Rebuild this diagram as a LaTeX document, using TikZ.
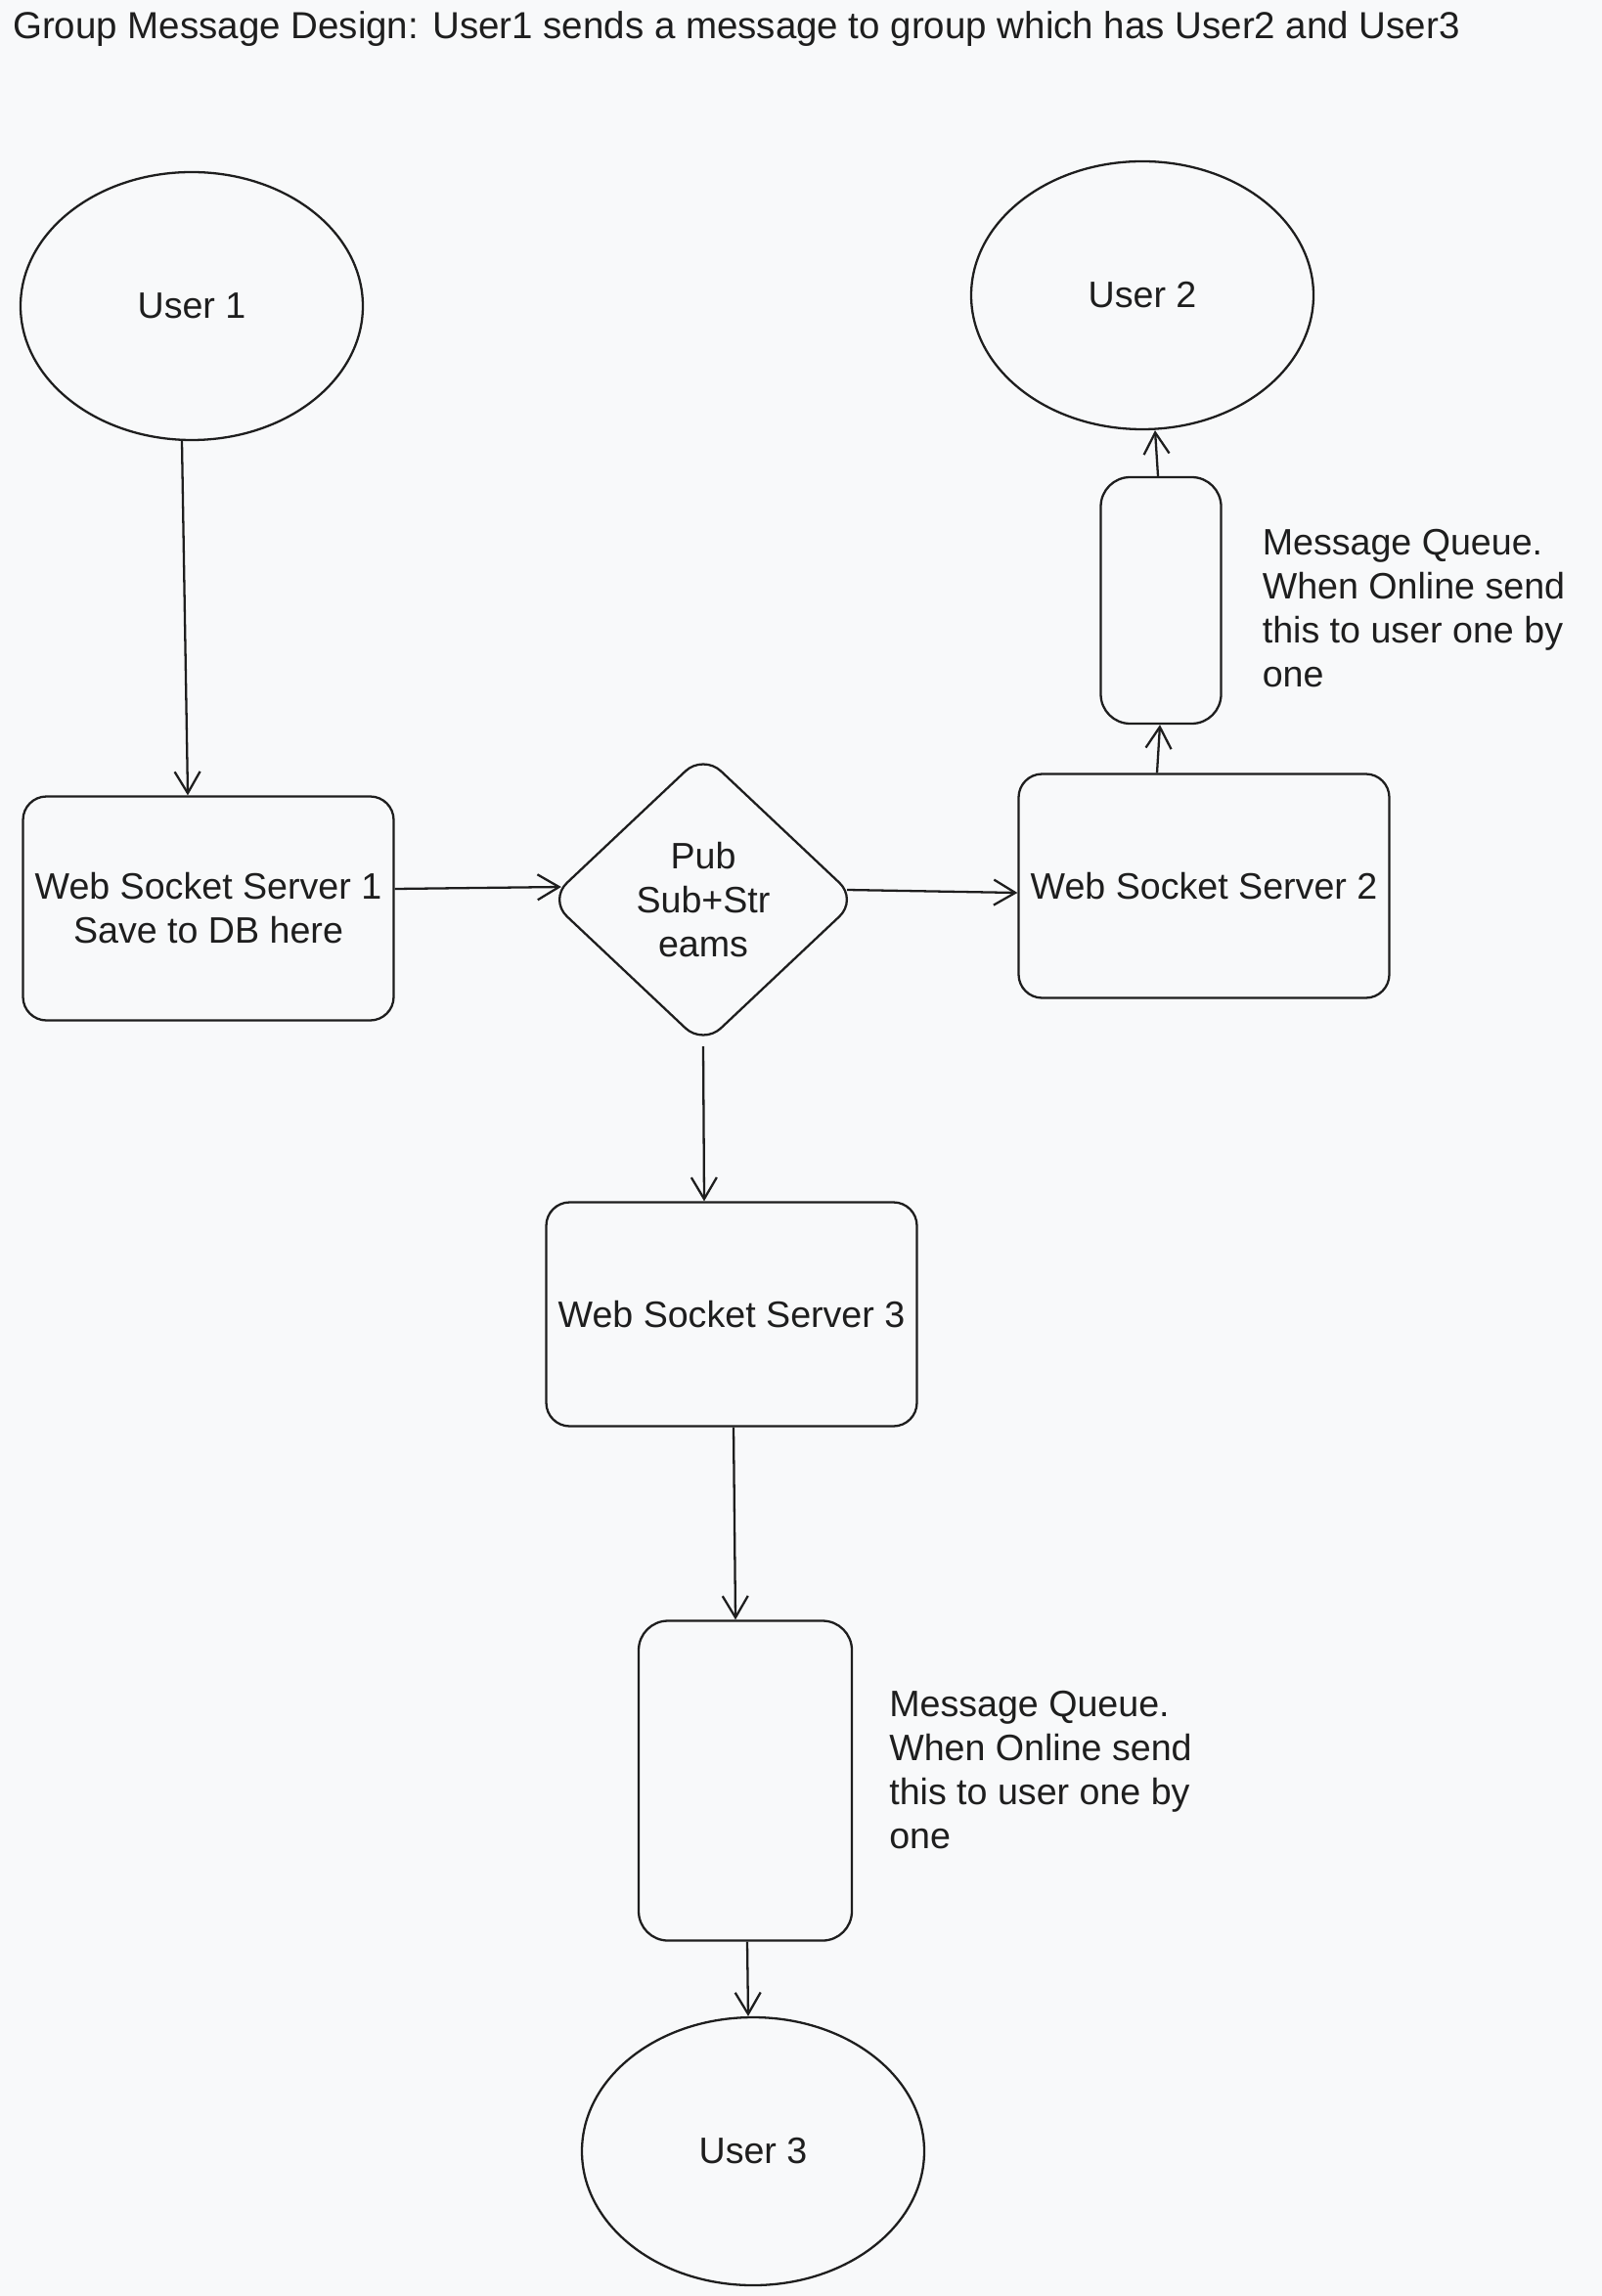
\documentclass[tikz,border=0pt]{standalone}
\usepackage{fontspec}
\setmainfont{Liberation Sans}
\usetikzlibrary{shapes.geometric,arrows.meta,positioning}
\definecolor{bg}{HTML}{F8F9FA}
\definecolor{ink}{HTML}{1E1E1E}
\begin{document}
\begin{tikzpicture}[line width=0.65pt,color=ink,
    every node/.style={font=\fontsize{10.7}{12.8}\selectfont},
    user/.style={ellipse,draw,minimum width=3.5cm,minimum height=2.74cm},
    server/.style={draw,rounded corners=0.24cm,minimum width=3.79cm,minimum height=2.29cm,align=center,inner sep=1pt},
    queue/.style={draw,rounded corners=0.3cm},
    note/.style={align=left,inner sep=0pt},
    >={Straight Barb[length=2.2mm,width=2.6mm]}]
    \fill[bg] (0,0) rectangle (16.38,-23.48);
    \useasboundingbox (0,0) rectangle (16.38,-23.48);
    \node[anchor=west,inner sep=0pt,font=\fontsize{10.95}{12.8}\selectfont] (title) at (0.12,-0.30) {Group Message Design: User1 sends a message to group which has User2 and User3};
    \node[user] (u1) at (1.96,-3.13) {User 1};
    \node[user] (u2) at (11.68,-3.02) {User 2};
    \node[server] (ws1) at (2.13,-9.29) {Web Socket Server 1\\Save to DB here};
    \node[diamond,draw,rounded corners=0.25cm,minimum width=3.16cm,minimum height=2.98cm,align=center,inner sep=0pt] (ps) at (7.19,-9.20) {Pub\\Sub+Str\\eams};
    \node[server] (ws2) at (12.31,-9.06) {Web Socket Server 2};
    \node[queue,minimum width=1.23cm,minimum height=2.52cm] (q2) at (11.87,-6.14) {};
    \node[note,right=0.4cm of q2,yshift=-0.08cm] (n2) {Message Queue.\\When Online send\\this to user one by\\one};
    \node[server] (ws3) at (7.48,-13.44) {Web Socket Server 3};
    \node[queue,minimum width=2.18cm,minimum height=3.27cm] (q3) at (7.62,-18.21) {};
    \node[note,right=0.36cm of q3,yshift=0.11cm] (n3) {Message Queue.\\When Online send\\this to user one by\\one};
    \node[user] (u3) at (7.70,-22.00) {User 3};
    % connectors
    \draw[->] ([xshift=-0.1cm]u1.south) -- ([xshift=-0.21cm]ws1.north);
    \draw[->] ([yshift=0.2cm]ws1.east) -- ([xshift=0.14cm,yshift=0.13cm]ps.west);
    \draw[->] ([xshift=-0.12cm,yshift=0.1cm]ps.east) -- ([yshift=-0.07cm]ws2.west);
    \draw[->] ([xshift=-0.48cm]ws2.north) -- ([xshift=-0.01cm]q2.south);
    \draw[->] ([xshift=-0.03cm]q2.north) -- ([xshift=0.13cm]u2.south);
    \draw[->] (ps.south) -- ([xshift=-0.28cm]ws3.north);
    \draw[->] ([xshift=0.02cm]ws3.south) -- ([xshift=-0.1cm]q3.north);
    \draw[->] ([xshift=0.02cm]q3.south) -- ([xshift=-0.05cm]u3.north);
\end{tikzpicture}
\end{document}
